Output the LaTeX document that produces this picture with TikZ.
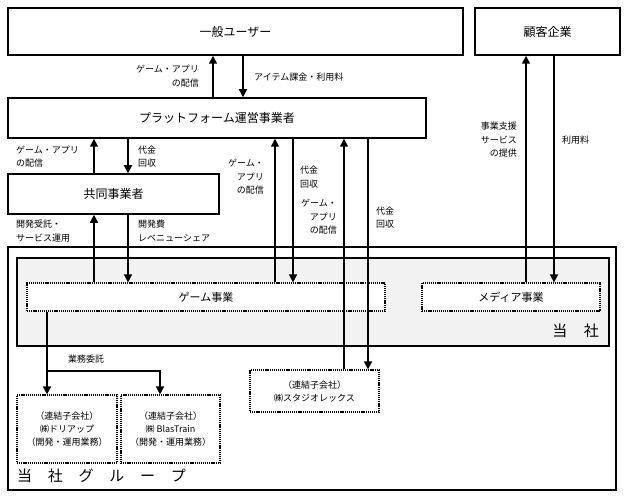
\documentclass[tikz,border=0pt]{standalone}
\usepackage{fontspec}
\setmainfont{Noto Sans CJK JP}
\usetikzlibrary{positioning,arrows.meta}

\tikzset{
	box/.style={draw,line width=1.5pt,inner sep=0pt,font=\fontsize{12}{14}\selectfont},
	dotbox/.style={draw,dash pattern=on 1.2pt off 0.9pt,line width=1.2pt,fill=white,inner sep=0pt,align=center,font=\fontsize{9}{13}\selectfont},
	lbl/.style={inner sep=2pt,font=\fontsize{9}{13.5}\selectfont},
	arr/.style={line width=1.5pt,-{Triangle[length=8pt,width=8pt]}},
}

\begin{document}
\begin{tikzpicture}[x=1pt,y=-1pt]
		\useasboundingbox (0,0) rectangle (626,497);
		% boxes
		\node[box,minimum width=455,minimum height=47] (user) at (235.5,31.5) {一般ユーザー};
		\node[box,minimum width=145,minimum height=47] (client) at (547.5,31.5) {顧客企業};
		\node[box,minimum width=418,minimum height=40] (pf) at (217,118) {プラットフォーム運営事業者};
		\node[box,minimum width=211,minimum height=40] (co) at (113.5,194) {共同事業者};
		\node[draw,line width=1.5pt,minimum width=608,minimum height=243] (grp) at (312,368.5) {};
		\node[draw,line width=1.5pt,fill=black!5,minimum width=592,minimum height=88] (tosha) at (313,302) {};
		\node[dotbox,minimum width=358,minimum height=28,font=\fontsize{11}{13}\selectfont] (game) at (206,297) {ゲーム事業};
		\node[dotbox,minimum width=178,minimum height=28,font=\fontsize{11}{13}\selectfont] (media) at (511,297) {メディア事業};
		\node[dotbox,minimum width=100,minimum height=68] (sub1) at (67,429) {（連結子会社）\\㈱ドリアップ\\（開発・運用業務）};
		\node[dotbox,minimum width=99,minimum height=68] (sub2) at (170.5,429) {（連結子会社）\\㈱ BlasTrain\\（開発・運用業務）};
		\node[dotbox,minimum width=129,minimum height=42] (sub3) at (314.5,391) {（連結子会社）\\㈱スタジオレックス};
		\node[anchor=east,inner sep=0pt,font=\fontsize{15}{15}\selectfont] (tlbl) at (599,331) {当\hspace{1.1em}社};
		\node[anchor=west,inner sep=0pt,font=\fontsize{15}{15}\selectfont] (glbl) at (17,476) {当\hspace{1.05em}社\hspace{1.05em}グ\hspace{1.05em}ル\hspace{1.05em}ー\hspace{1.05em}プ};
		% arrow columns
		\coordinate (x1) at (94,0);
		\coordinate (x2) at (128,0);
		\coordinate (x3) at (213,0);
		\coordinate (x4) at (243,0);
		\coordinate (x5) at (275,0);
		\coordinate (x6) at (293,0);
		\coordinate (x7) at (344,0);
		\coordinate (x8) at (368,0);
		\coordinate (x9) at (526,0);
		\coordinate (x10) at (554,0);
		\coordinate (x11) at (47,0);
		\coordinate (x12) at (160,0);
		\coordinate (y1) at (0,371);
		\draw[arr] (pf.north -| x3) -- (user.south -| x3);
		\draw[arr] (user.south -| x4) -- (pf.north -| x4);
		\draw[arr] (co.north -| x1) -- (pf.south -| x1);
		\draw[arr] (pf.south -| x2) -- (co.north -| x2);
		\draw[arr] (game.north -| x1) -- (co.south -| x1);
		\draw[arr] (co.south -| x2) -- (game.north -| x2);
		\draw[arr] (game.north -| x5) -- (pf.south -| x5);
		\draw[arr] (pf.south -| x6) -- (game.north -| x6);
		\draw[arr] (sub3.north -| x7) -- (pf.south -| x7);
		\draw[arr] (pf.south -| x8) -- (sub3.north -| x8);
		\draw[arr] (media.north -| x9) -- (client.south -| x9);
		\draw[arr] (client.south -| x10) -- (media.north -| x10);
		\draw[arr] (game.south -| x11) -- (sub1.north -| x11);
		\draw[arr] (x11 |- y1) -- (x12 |- y1) -- (sub2.north -| x12);
		% labels
		\node[lbl,anchor=east,align=right] (l1) at (201,76) {ゲーム・アプリ\\の配信};
		\node[lbl,anchor=west] (l2) at (252,77) {アイテム課金・利用料};
		\node[lbl,anchor=west,align=left] (l3) at (14,156.5) {ゲーム・アプリ\\の配信};
		\node[lbl,anchor=west,align=left] (l4) at (136,156.5) {代金\\回収};
		\node[lbl,anchor=west,align=left] (l5) at (14,231) {開発受託・\\サービス運用};
		\node[lbl,anchor=west,align=left] (l6) at (136,231) {開発費\\レベニューシェア};
		\node[lbl,anchor=east,align=right] (l7) at (266,177) {ゲーム・\\アプリ\\の配信};
		\node[lbl,anchor=west,align=left] (l8) at (298,177) {代金\\回収};
		\node[lbl,anchor=east,align=right] (l9) at (339,217) {ゲーム・\\アプリ\\の配信};
		\node[lbl,anchor=west,align=left] (l10) at (374,217.5) {代金\\回収};
		\node[lbl,anchor=east,align=right] (l11) at (519,140) {事業支援\\サービス\\の提供};
		\node[lbl,anchor=west] (l12) at (560,140) {利用料};
		\node[lbl,anchor=west] (l13) at (66,359) {業務委託};
	\end{tikzpicture}
\end{document}
